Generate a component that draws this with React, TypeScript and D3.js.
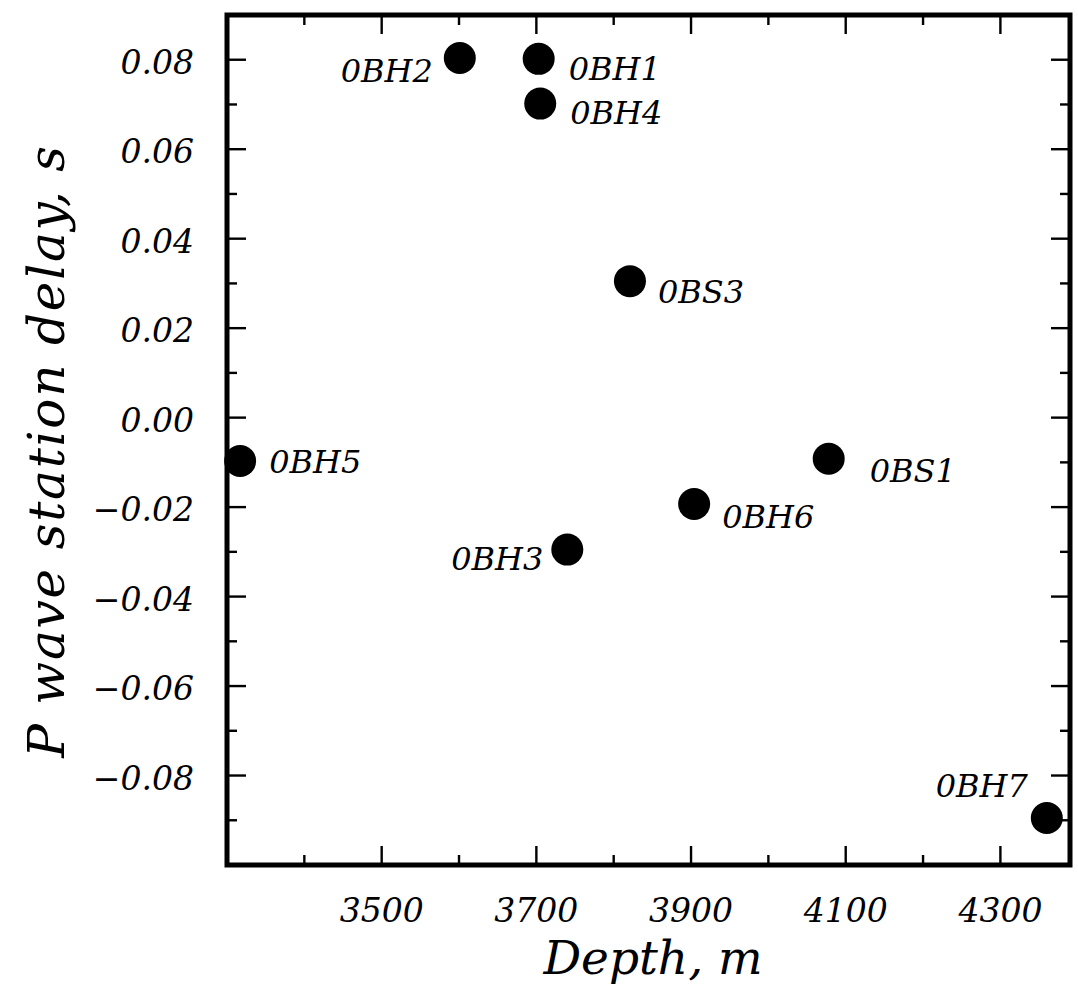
import React from "react";
import * as d3 from "d3";

const stations = ["OBH2", "OBH1", "OBH4", "OBS3", "OBH5", "OBS1", "OBH6", "OBH3", "OBH7"];
const labels = ["0BH2", "0BH1", "0BH4", "0BS3", "0BH5", "0BS1", "0BH6", "0BH3", "0BH7"];
const depths = [3601, 3703, 3705, 3821, 3317, 4078, 3904, 3740, 4360];
const delays = [0.0804, 0.0802, 0.0702, 0.0305, -0.0097, -0.0092, -0.0193, -0.0295, -0.0895];

const xMajorTicks = [3500, 3700, 3900, 4100, 4300];
const xMinorTicks = [3400, 3600, 3800, 4000, 4200];
const yMajorTicks = [0.08, 0.06, 0.04, 0.02, 0.0, -0.02, -0.04, -0.06, -0.08];
const yMinorTicks = [0.07, 0.05, 0.03, 0.01, -0.01, -0.03, -0.05, -0.07, -0.09];

const xTitle = "Depth, m";
const yTitle = "P wave station delay, s";

// label placement (styling only)
const labelPlacement: Record<string, { dx: number; dy: number; anchor: string }> = {
  OBH2: { dx: -27, dy: 24, anchor: "end" },
  OBH1: { dx: 30, dy: 21, anchor: "start" },
  OBH4: { dx: 30, dy: 20, anchor: "start" },
  OBS3: { dx: 28, dy: 22, anchor: "start" },
  OBH5: { dx: 29, dy: 12, anchor: "start" },
  OBS1: { dx: 41, dy: 23, anchor: "start" },
  OBH6: { dx: 28, dy: 24, anchor: "start" },
  OBH3: { dx: -24, dy: 20, anchor: "end" },
  OBH7: { dx: -19, dy: -21, anchor: "end" },
};

const FONT = "'DejaVu Serif', serif";

export default function App() {
  const W = 1078;
  const H = 997;
  const left = 227, right = 1070, top = 15, bottom = 865;
  const x = d3.scaleLinear().domain([3300, 4390]).range([left, right]);
  const y = d3.scaleLinear().domain([-0.1, 0.09]).range([bottom, top]);
  const fmtY = (v: number) => {
    const s = Math.abs(v).toFixed(2);
    return v < -1e-9 ? "\u2212" + s : s;
  };
  const major = 19, minor = 10;
  return (
    <svg width={W} height={H} style={{ position: "absolute", left: 0, top: 0, background: "#fff" }}>
      <rect x={0} y={0} width={W} height={H} fill="#fff" />
      {/* ticks */}
      <g stroke="#000" strokeWidth={2.4}>
        {xMajorTicks.map((t) => (
          <g key={"xM" + t}>
            <line x1={x(t)} x2={x(t)} y1={bottom} y2={bottom - major} />
            <line x1={x(t)} x2={x(t)} y1={top} y2={top + major} />
          </g>
        ))}
        {xMinorTicks.map((t) => (
          <g key={"xm" + t}>
            <line x1={x(t)} x2={x(t)} y1={bottom} y2={bottom - minor} />
            <line x1={x(t)} x2={x(t)} y1={top} y2={top + minor} />
          </g>
        ))}
        {yMajorTicks.map((t) => (
          <g key={"yM" + t}>
            <line x1={left} x2={left + major} y1={y(t)} y2={y(t)} />
            <line x1={right} x2={right - major} y1={y(t)} y2={y(t)} />
          </g>
        ))}
        {yMinorTicks.map((t) => (
          <g key={"ym" + t}>
            <line x1={left} x2={left + minor} y1={y(t)} y2={y(t)} />
            <line x1={right} x2={right - minor} y1={y(t)} y2={y(t)} />
          </g>
        ))}
      </g>
      {/* frame */}
      <rect x={left} y={top} width={right - left} height={bottom - top} fill="none" stroke="#000" strokeWidth={5} />
      {/* tick labels */}
      <g fontFamily={FONT} fontStyle="italic" fontSize={33} fill="#000">
        {xMajorTicks.map((t) => (
          <text key={"xl" + t} x={x(t)} y={922} textAnchor="middle">
            {String(t)}
          </text>
        ))}
        {yMajorTicks.map((t) => (
          <text key={"yl" + t} x={194} y={y(t) + 14} textAnchor="end">
            {fmtY(t)}
          </text>
        ))}
      </g>
      {/* points */}
      <g>
        {stations.map((s, i) => (
          <circle key={s} cx={x(depths[i])} cy={y(delays[i])} r={16} fill="#000" />
        ))}
      </g>
      <g fontFamily={FONT} fontStyle="italic" fontSize={32} fill="#000">
        {stations.map((s, i) => {
          const p = labelPlacement[s];
          return (
            <text
              key={"lab" + s}
              x={x(depths[i]) + p.dx}
              y={y(delays[i]) + p.dy}
              textAnchor={p.anchor as any}
            >
              {labels[i]}
            </text>
          );
        })}
      </g>
      {/* axis titles */}
      <text x={653} y={974} textAnchor="middle" fontFamily={FONT} fontStyle="italic" fontSize={47} fill="#000">
        {xTitle}
      </text>
      <text
        transform={`translate(64, 451) rotate(-90)`}
        textAnchor="middle"
        fontFamily={FONT}
        fontStyle="italic"
        fontSize={50}
        letterSpacing={1.8}
        fill="#000"
      >
        {yTitle}
      </text>
    </svg>
  );
}
